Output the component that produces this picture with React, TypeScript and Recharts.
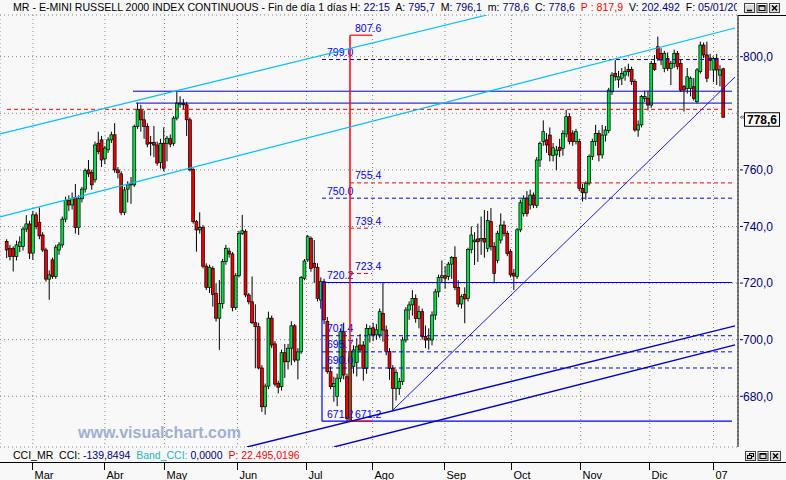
import React from 'react';
import { ComposedChart, Bar, XAxis, YAxis, CartesianGrid, ReferenceLine } from 'recharts';

const FONT = "'Liberation Sans', Arial, Helvetica, sans-serif";
const NAVY = '#00007f';
const BLUE = '#0000ff';
const DBLUE = '#0000cc';
const CYAN = '#00bfff';
const RED = '#ff0000';
const UP_FILL = '#00e040';
const DOWN_FILL = '#ee0000';
const BG = '#f8f8f8';

// ---- daily candles (index 0 = late Feb 2006 ... 219 = 05/01/2007) ----
const opens = [
  734.7, 732.3, 732.3, 729.4, 733.0, 732.9, 739.1, 740.9, 730.6, 744.1,
  741.5, 737.0, 731.7, 721.4, 728.2, 722.3, 731.7, 733.5, 742.6, 749.2,
  747.6, 750.3, 739.7, 749.8, 753.2, 760.0, 759.1, 756.5, 769.4, 770.6,
  763.9, 767.1, 770.6, 772.4, 760.0, 758.6, 745.0, 753.2, 755.3, 754.7,
  775.3, 781.4, 777.7, 775.3, 769.7, 769.7, 768.8, 762.6, 769.4, 769.4,
  771.0, 769.4, 778.3, 783.3, 783.6, 783.0, 777.7, 760.2, 741.7, 738.8,
  739.6, 726.0, 718.5, 725.2, 716.4, 707.6, 712.8, 727.6, 731.3, 730.3,
  711.4, 722.6, 737.6, 738.2, 715.8, 713.4, 706.0, 704.6, 690.0, 676.3,
  683.6, 707.6, 698.5, 684.6, 683.4, 695.4, 692.2, 697.0, 704.9, 692.8,
  695.7, 721.7, 728.2, 735.8, 727.0, 725.6, 714.0, 720.5, 706.4, 688.7,
  683.4, 679.9, 686.4, 702.8, 686.9, 671.6, 690.5, 692.0, 698.1, 698.1,
  689.9, 701.7, 704.2, 701.7, 701.7, 709.3, 703.4, 695.8, 689.9, 682.8,
  682.8, 685.2, 699.9, 710.5, 712.3, 714.6, 707.5, 709.9, 701.1, 699.9,
  699.9, 708.7, 716.9, 722.0, 722.6, 722.3, 726.7, 729.1, 718.5, 712.6,
  716.0, 714.6, 731.9, 734.6, 735.6, 735.2, 735.8, 732.3, 741.7, 732.9,
  728.0, 735.2, 740.5, 737.6, 731.1, 723.5, 722.3, 738.8, 744.6, 750.0,
  747.6, 751.1, 747.4, 763.5, 770.0, 770.6, 772.3, 765.1, 765.3, 768.0,
  767.6, 772.7, 778.8, 773.0, 770.0, 770.0, 753.5, 751.9, 755.3, 764.7,
  770.0, 772.9, 765.3, 772.3, 773.9, 787.6, 794.1, 791.8, 792.4, 793.5,
  795.5, 795.5, 791.2, 774.1, 775.9, 785.3, 785.3, 782.9, 797.6, 803.5,
  801.2, 795.9, 799.4, 795.9, 797.6, 801.2, 797.6, 789.4, 788.8, 788.8,
  789.4, 784.1, 794.7, 804.1, 800.6, 799.5, 795.3, 799.4, 793.5, 795.7,
];
const highs = [
  735.5, 733.5, 733.0, 735.0, 736.5, 740.0, 744.0, 742.0, 745.5, 745.0,
  746.7, 738.0, 732.5, 724.5, 729.0, 733.5, 734.5, 743.5, 750.5, 751.0,
  752.0, 755.0, 751.0, 754.0, 760.5, 763.5, 760.0, 770.0, 773.5, 772.0,
  768.5, 771.5, 773.5, 776.5, 761.0, 759.5, 754.0, 756.0, 757.5, 776.0,
  783.6, 783.0, 781.0, 776.5, 772.0, 775.5, 770.0, 771.0, 775.0, 772.0,
  772.5, 779.0, 787.8, 786.0, 785.0, 784.0, 778.5, 760.6, 742.3, 745.0,
  740.5, 727.0, 726.5, 726.0, 719.9, 721.1, 728.5, 733.5, 732.5, 731.0,
  723.5, 738.5, 744.1, 739.0, 716.5, 722.3, 712.5, 706.0, 691.0, 684.5,
  709.9, 708.5, 699.5, 685.5, 696.5, 698.5, 698.5, 706.5, 705.5, 697.0,
  722.5, 728.5, 737.0, 736.5, 735.2, 727.0, 722.0, 721.5, 708.0, 690.5,
  686.9, 688.0, 704.0, 706.0, 688.0, 697.0, 698.0, 700.5, 702.0, 699.5,
  705.5, 705.0, 706.0, 705.5, 711.0, 720.2, 705.0, 697.0, 691.0, 689.5,
  686.5, 701.0, 711.5, 713.5, 717.5, 716.0, 712.0, 711.0, 705.0, 704.0,
  710.0, 718.0, 723.0, 728.0, 726.0, 727.5, 729.5, 733.0, 721.0, 716.0,
  718.5, 732.5, 740.0, 738.0, 741.0, 743.5, 745.8, 745.5, 746.5, 734.5,
  738.5, 744.6, 742.0, 738.5, 732.0, 725.0, 739.5, 749.5, 751.0, 752.5,
  753.0, 752.0, 764.5, 770.0, 777.5, 773.0, 775.0, 769.5, 768.5, 771.0,
  774.0, 781.2, 780.0, 774.0, 774.5, 771.0, 755.0, 756.0, 765.5, 771.0,
  775.9, 774.0, 775.9, 775.5, 789.0, 794.5, 798.8, 795.0, 796.0, 796.5,
  797.5, 796.5, 792.0, 777.5, 786.5, 788.0, 788.0, 798.5, 800.6, 807.1,
  803.0, 802.0, 801.5, 798.5, 802.5, 802.0, 799.0, 790.0, 796.0, 793.0,
  792.5, 796.0, 805.3, 805.0, 805.3, 801.0, 800.0, 801.0, 797.0, 796.1,
];
const lows = [
  728.8, 728.0, 724.1, 728.0, 731.0, 731.5, 738.0, 728.5, 728.2, 739.0,
  735.5, 731.0, 720.5, 714.1, 721.5, 721.5, 730.0, 732.5, 741.5, 745.5,
  746.0, 737.5, 737.0, 748.5, 752.0, 757.5, 753.0, 755.5, 765.5, 761.0,
  762.0, 766.0, 769.5, 759.0, 757.0, 744.0, 744.0, 748.5, 748.0, 754.0,
  774.5, 773.5, 771.0, 768.0, 765.0, 764.5, 761.5, 760.5, 759.5, 763.0,
  768.0, 768.5, 777.5, 782.0, 781.5, 772.0, 759.5, 741.0, 731.1, 737.5,
  725.2, 717.6, 716.5, 711.7, 706.4, 696.4, 711.0, 726.5, 729.0, 710.0,
  710.5, 722.0, 737.0, 715.0, 712.5, 705.5, 689.9, 689.5, 674.5, 673.5,
  682.5, 697.0, 683.5, 681.0, 682.0, 686.5, 689.5, 691.0, 692.0, 686.0,
  695.0, 721.0, 727.5, 724.0, 720.0, 713.5, 711.0, 705.5, 688.0, 682.5,
  678.1, 676.5, 685.0, 686.0, 671.2, 671.2, 688.0, 687.0, 695.5, 685.5,
  688.0, 699.0, 699.5, 700.0, 700.5, 699.3, 694.5, 685.8, 675.1, 678.5,
  680.5, 684.0, 699.0, 707.0, 708.5, 706.0, 704.0, 700.0, 697.0, 696.5,
  698.0, 707.0, 715.0, 720.0, 718.0, 721.0, 721.5, 717.5, 711.5, 711.0,
  705.8, 713.5, 730.5, 726.4, 727.5, 730.0, 729.0, 731.0, 731.5, 719.9,
  727.0, 734.0, 736.5, 729.5, 722.0, 717.6, 721.5, 738.0, 743.5, 743.5,
  746.0, 746.5, 746.5, 761.0, 768.5, 766.0, 763.0, 763.0, 759.9, 764.5,
  765.0, 771.5, 769.0, 768.5, 769.0, 752.5, 748.8, 749.5, 754.5, 763.5,
  768.5, 763.0, 764.0, 770.0, 773.0, 786.5, 791.5, 789.0, 790.0, 791.5,
  793.0, 790.0, 773.5, 771.7, 775.0, 784.0, 781.0, 782.0, 795.0, 798.5,
  797.0, 794.5, 795.0, 790.0, 796.0, 795.5, 787.5, 780.6, 787.0, 786.0,
  784.5, 783.5, 794.0, 799.5, 791.0, 795.0, 791.0, 790.0, 789.5, 778.6,
];
const closes = [
  731.7, 729.4, 729.4, 733.5, 734.5, 739.1, 740.9, 730.6, 744.1, 740.0,
  736.7, 731.7, 721.4, 722.9, 722.3, 732.7, 733.5, 742.6, 749.2, 747.6,
  749.8, 739.7, 749.8, 753.2, 759.8, 758.6, 754.7, 768.8, 766.5, 763.5,
  767.7, 770.6, 772.4, 760.0, 759.0, 745.0, 752.9, 754.7, 754.7, 775.3,
  781.4, 777.7, 775.3, 769.1, 769.4, 768.8, 762.4, 769.4, 760.6, 771.2,
  769.1, 778.3, 783.6, 783.6, 783.0, 777.7, 760.0, 741.7, 738.8, 739.6,
  726.0, 718.5, 725.6, 716.0, 707.6, 712.8, 727.6, 732.3, 730.3, 711.4,
  722.6, 737.6, 738.5, 715.8, 713.4, 706.0, 704.6, 690.0, 676.3, 683.6,
  707.6, 698.1, 684.3, 683.2, 695.4, 692.2, 697.0, 704.9, 692.8, 695.7,
  722.0, 727.8, 736.4, 725.2, 725.6, 714.6, 720.5, 707.0, 688.7, 683.4,
  684.5, 686.4, 702.8, 687.5, 672.2, 695.8, 696.4, 697.5, 696.4, 689.9,
  704.0, 704.0, 701.7, 703.5, 709.9, 703.4, 695.8, 689.9, 682.8, 688.4,
  685.2, 699.9, 710.5, 712.3, 714.6, 707.5, 709.9, 701.1, 699.9, 700.5,
  708.7, 716.9, 722.0, 722.6, 721.7, 726.7, 729.1, 718.5, 712.6, 715.2,
  714.4, 731.9, 737.0, 735.2, 734.6, 735.8, 734.5, 742.1, 732.9, 723.4,
  737.6, 740.5, 737.6, 730.5, 722.9, 722.5, 738.8, 748.4, 750.0, 744.6,
  751.1, 747.6, 763.5, 769.4, 773.5, 768.8, 765.3, 767.8, 767.0, 766.9,
  772.9, 778.8, 770.0, 770.0, 773.5, 753.5, 751.9, 755.3, 764.7, 770.0,
  772.9, 765.3, 772.3, 774.1, 788.2, 793.5, 792.9, 792.9, 794.1, 794.7,
  794.7, 791.2, 774.1, 775.9, 785.9, 785.9, 782.9, 797.6, 795.5, 799.4,
  798.8, 801.2, 795.9, 797.6, 801.2, 796.5, 788.2, 788.2, 792.9, 792.4,
  785.3, 795.3, 804.1, 800.6, 792.4, 798.6, 799.4, 795.3, 795.3, 778.6,
];

const rows = opens.map((o, i) => ({ idx: i, o, h: highs[i], l: lows[i], c: closes[i] }));

// ---- axes ----
const monthTicks = [8.0, 30.0, 48.2, 70.5, 91.6, 111.8, 133.9, 154.2, 175.4, 196.5, 216.0];
const monthLabels = ['Mar', 'Abr', 'May', 'Jun', 'Jul', 'Ago', 'Sep', 'Oct', 'Nov', 'Dic', '07'];
const priceTicks = [680, 700, 720, 740, 760, 780, 800];
const lastPrice = 778.6;
const xDomain = [-2.08, 223.47];
const yDomain = [662.08, 814.73];

// ---- drawing tool values (bar index, price) ----
const resistanceLevels = [787.8, 783.6];
const resistanceStarts = [38.57, 39.49];
const redDashLevel = 781.4;
const drawEnd = 221.64;
const boxStart = 96.33;
const fibX = 104.89;
const fibShortEnd = 111.61;
const blueDashLevels = [799.0, 750.0, 701.4, 695.7, 690.0];
const blueDashLabels = ['799.0', '750.0', '701.4', '695.7', '690.0'];
const boxTop = 720.2;
const boxBottom = 671.2;
const fibHigh = 807.6;
const fibLow = 671.2;
const redFibLevels = [755.4, 739.4, 723.4];
const redFibLabels = ['755.4', '739.4', '723.4'];
// [index1, price1, index2, price2]
const cyanLines = [
  [-2.08, 772.69, 146.76, 814.73],
  [-2.08, 743.36, 222.56, 810.14],
];
const blueTrendLines = [
  [73.41, 662.08, 222.56, 704.84],
  [100.0, 662.08, 222.56, 698.13],
];
const upTrendLine = [118.03, 675.16, 222.56, 792.83];

const Candle = (props: any) => {
  const { x, y, width, height, payload } = props;
  if (!payload || x == null || y == null) return null;
  const cx = x + width / 2;
  const top = Math.min(y, y + height);
  const span = Math.abs(height);
  const { o, h, l, c } = payload;
  const k = span / (h - l);
  const yO = top + (h - o) * k;
  const yC = top + (h - c) * k;
  const bTop = Math.min(yO, yC);
  const bH = Math.max(Math.abs(yC - yO), 1);
  const up = c >= o;
  return (
    <g>
      <line x1={cx} x2={cx} y1={top} y2={top + span} stroke="#000" strokeWidth={1} />
      <rect x={cx - 1.45} y={bTop} width={2.9} height={bH} fill={up ? UP_FILL : DOWN_FILL} stroke="#000" strokeWidth={0.7} />
    </g>
  );
};

const MonthTick = (p: any) => {
  const { x, payload } = p;
  const k = monthTicks.indexOf(payload.value);
  const xx = Math.floor(x) + 0.5;
  return (
    <g>
      <line x1={xx} x2={xx} y1={462} y2={470} stroke="#000" strokeWidth={1} />
      <text x={xx + 2} y={478.5} fontSize={11} fill="#000" fontFamily={FONT}>{monthLabels[k]}</text>
    </g>
  );
};

const PriceTick = (p: any) => {
  const { x, y, payload } = p;
  if (payload.value === 780) return null;
  return (
    <g>
      <line x1={x + 2} x2={x + 5} y1={y} y2={y} stroke={NAVY} strokeWidth={1} />
      <text x={x + 5} y={y + 4.3} fontSize={12} fill={NAVY} fontFamily={FONT}>
        {payload.value.toFixed(1).replace('.', ',')}
      </text>
    </g>
  );
};

const LevelText = (p: any) => {
  const vb = p.viewBox || { x: 0, y: 0 };
  return (
    <text x={vb.x + p.shift} y={vb.y - 3.5} fill={BLUE} fontSize={10.5} fontFamily={FONT}>{p.lbl}</text>
  );
};

const PriceBox = (p: any) => {
  const vb = p.viewBox || { x: 0, y: 0, width: 0 };
  const x0 = vb.x + vb.width;
  const yy = vb.y;
  return (
    <g>
      <path d={`M${x0 + 4},${yy - 1.5} L${x0 + 2.5},${yy} L${x0 + 4},${yy + 1.5} M${x0 + 6},${yy - 1.5} L${x0 + 4.5},${yy} L${x0 + 6},${yy + 1.5}`} stroke="#000" fill="none" strokeWidth={0.8} />
      <rect x={x0 + 6.5} y={yy - 4.5} width={35} height={13.5} fill="#fff" stroke="#000" strokeWidth={1} />
      <text x={x0 + 24} y={yy + 6.5} textAnchor="middle" fontWeight="bold" fontSize={12} fill="#000" fontFamily={FONT}>
        {lastPrice.toFixed(1).replace('.', ',')}
      </text>
    </g>
  );
};

const seg = (a: number, pa: number, b: number, pb: number) => [{ x: a, y: pa }, { x: b, y: pb }];

const WinButtons = ({ x, y, kind }: { x: number; y: number; kind: string[] }) => (
  <g>
    {kind.map((k, j) => {
      const bx = x + j * 12.5;
      return (
        <g key={j}>
          <rect x={bx + 0.5} y={y + 0.5} width={10} height={9} fill="#d8d8d8" stroke="#404040" strokeWidth={1} />
          <line x1={bx + 1} x2={bx + 10} y1={y + 1.5} y2={y + 1.5} stroke="#fff" />
          {k === 'min' && <line x1={bx + 3} x2={bx + 8} y1={y + 7.5} y2={y + 7.5} stroke="#000" strokeWidth={1.5} />}
          {k === 'max' && <rect x={bx + 2.5} y={y + 2.5} width={6} height={5} fill="none" stroke="#000" strokeWidth={1} />}
          {k === 'max' && <line x1={bx + 2.5} x2={bx + 8.5} y1={y + 3} y2={y + 3} stroke="#000" strokeWidth={1.5} />}
          {k === 'restore' && (
            <g>
              <rect x={bx + 4.5} y={y + 2.5} width={4} height={3} fill="none" stroke="#000" />
              <rect x={bx + 2.5} y={y + 4.5} width={4} height={3} fill="#d8d8d8" stroke="#000" />
            </g>
          )}
          {k === 'close' && (
            <path d={`M${bx + 3},${y + 2.5} L${bx + 8},${y + 7.5} M${bx + 8},${y + 2.5} L${bx + 3},${y + 7.5}`} stroke="#000" strokeWidth={1.4} />
          )}
        </g>
      );
    })}
  </g>
);

export default function App() {
  return (
    <div style={{ position: 'absolute', left: 0, top: 0, width: 786, height: 480, background: BG, overflow: 'hidden' }}>
      <ComposedChart width={786} height={480} data={rows} margin={{ top: 15, right: 0, bottom: 0, left: 0 }}>
        <CartesianGrid stroke="#888" strokeDasharray="1 3" />
        <XAxis
          dataKey="idx"
          type="number"
          domain={xDomain}
          ticks={monthTicks}
          interval={0}
          height={33}
          axisLine={false}
          tickLine={false}
          tick={<MonthTick />}
          allowDataOverflow
        />
        <YAxis
          orientation="right"
          width={48}
          type="number"
          domain={yDomain}
          ticks={priceTicks}
          interval={0}
          axisLine={{ stroke: '#000', strokeWidth: 1 }}
          tickLine={false}
          tickSize={0}
          tickMargin={0}
          tick={<PriceTick />}
          allowDataOverflow
        />

        {/* horizontal levels */}
        <ReferenceLine segment={seg(0.06, redDashLevel, drawEnd, redDashLevel)} stroke={RED} strokeDasharray="4 3" ifOverflow="visible" />
        {resistanceLevels.map((v, j) => (
          <ReferenceLine key={'res' + j} segment={seg(resistanceStarts[j], v, drawEnd, v)} stroke={DBLUE} strokeWidth={1} ifOverflow="visible" />
        ))}
        {blueDashLevels.map((v, j) => (
          <ReferenceLine key={'bd' + j} segment={seg(boxStart, v, drawEnd, v)} stroke={BLUE} strokeDasharray="4 3" ifOverflow="visible"
            label={<LevelText lbl={blueDashLabels[j]} shift={5} />} />
        ))}
        <ReferenceLine segment={seg(boxStart, boxTop, drawEnd, boxTop)} stroke={BLUE} strokeWidth={1.2} ifOverflow="visible"
          label={<LevelText lbl={boxTop.toFixed(1)} shift={5} />} />
        <ReferenceLine segment={seg(boxStart, boxBottom, drawEnd, boxBottom)} stroke={BLUE} strokeWidth={1.2} ifOverflow="visible"
          label={<LevelText lbl={boxBottom.toFixed(1)} shift={5} />} />
        <ReferenceLine segment={seg(boxStart, boxBottom, boxStart, boxTop)} stroke={BLUE} strokeWidth={1.2} ifOverflow="visible" />

        <ReferenceLine segment={seg(fibX, redFibLevels[0], drawEnd, redFibLevels[0])} stroke={RED} strokeDasharray="4 3" ifOverflow="visible"
          label={<LevelText lbl={redFibLabels[0]} shift={5} />} />
        {redFibLevels.slice(1).map((v, j) => (
          <ReferenceLine key={'rf' + j} segment={seg(fibX, v, fibShortEnd, v)} stroke={RED} strokeDasharray="4 3" ifOverflow="visible"
            label={<LevelText lbl={redFibLabels[j + 1]} shift={5} />} />
        ))}
        <ReferenceLine segment={seg(fibX, fibHigh, fibShortEnd, fibHigh)} stroke={RED} strokeWidth={1.2} ifOverflow="visible"
          label={<LevelText lbl={fibHigh.toFixed(1)} shift={5} />} />
        <ReferenceLine segment={seg(fibX, fibLow, fibShortEnd, fibLow)} stroke={RED} strokeWidth={1.2} ifOverflow="visible"
          label={<LevelText lbl={fibLow.toFixed(1)} shift={5} />} />

        <Bar dataKey={(d: any) => [d.l, d.h]} shape={<Candle />} isAnimationActive={false} barSize={3} />

        <ReferenceLine segment={seg(fibX, fibLow, fibX, fibHigh)} stroke={RED} strokeWidth={1.5} ifOverflow="visible" />

        {/* trend lines */}
        {cyanLines.map((l, j) => (
          <ReferenceLine key={'cy' + j} segment={seg(l[0], l[1], l[2], l[3])} stroke={CYAN} strokeWidth={1.2} ifOverflow="hidden" />
        ))}
        {blueTrendLines.map((l, j) => (
          <ReferenceLine key={'bt' + j} segment={seg(l[0], l[1], l[2], l[3])} stroke={DBLUE} strokeWidth={1.3} ifOverflow="hidden" />
        ))}
        <ReferenceLine segment={seg(upTrendLine[0], upTrendLine[1], upTrendLine[2], upTrendLine[3])} stroke={BLUE} strokeWidth={0.9} ifOverflow="hidden" />

        <ReferenceLine y={lastPrice} stroke="none" strokeOpacity={0} ifOverflow="visible" label={<PriceBox />} />
      </ComposedChart>

      <svg width={786} height={480} style={{ position: 'absolute', left: 0, top: 0, pointerEvents: 'none' }}>
        <defs>
          <clipPath id="titleClip">
            <rect x={0} y={0} width={737} height={15} />
          </clipPath>
        </defs>
        <text x={13} y={11} fontSize={10.6} fontFamily={FONT} clipPath="url(#titleClip)" style={{ whiteSpace: 'pre' }}>
          <tspan fill="#000">{'MR - E-MINI RUSSELL 2000 INDEX CONTINUOUS - Fin de día 1 días H: '}</tspan>
          <tspan fill={NAVY}>{'22:15'}</tspan>
          <tspan fill="#000">{'  A: '}</tspan>
          <tspan fill={NAVY}>{'795,7'}</tspan>
          <tspan fill="#000">{'  M: '}</tspan>
          <tspan fill={NAVY}>{'796,1'}</tspan>
          <tspan fill="#000">{'  m: '}</tspan>
          <tspan fill={NAVY}>{'778,6'}</tspan>
          <tspan fill="#000">{'  C: '}</tspan>
          <tspan fill={NAVY}>{'778,6'}</tspan>
          <tspan fill={RED}>{'  P : 817,9'}</tspan>
          <tspan fill="#000">{'  V: '}</tspan>
          <tspan fill={NAVY}>{'202.492'}</tspan>
          <tspan fill="#000">{'  F: '}</tspan>
          <tspan fill={NAVY}>{'05/01/2007'}</tspan>
        </text>
        <WinButtons x={744} y={3} kind={['min', 'max', 'close']} />

        <line x1={738} x2={786} y1={15.5} y2={15.5} stroke="#000" strokeWidth={1} />

        <text x={78} y={437.5} fontSize={16} fontWeight="bold" fill="#a0b0d2" fontFamily={FONT}>www.visualchart.com</text>

        <text x={13} y={458.5} fontSize={10.5} fontFamily={FONT} style={{ whiteSpace: 'pre' }}>
          <tspan fill="#000">{'CCI_MR  CCI: '}</tspan>
          <tspan fill={NAVY}>{'-139,8494'}</tspan>
          <tspan fill="#20b8c0">{'  Band_CCI: '}</tspan>
          <tspan fill={NAVY}>{'0,0000'}</tspan>
          <tspan fill={RED}>{'  P: 22.495,0196'}</tspan>
        </text>
        <WinButtons x={745} y={451} kind={['restore', 'max', 'close']} />

        <line x1={0} x2={786} y1={462.5} y2={462.5} stroke="#000" strokeWidth={1} />
      </svg>
    </div>
  );
}
